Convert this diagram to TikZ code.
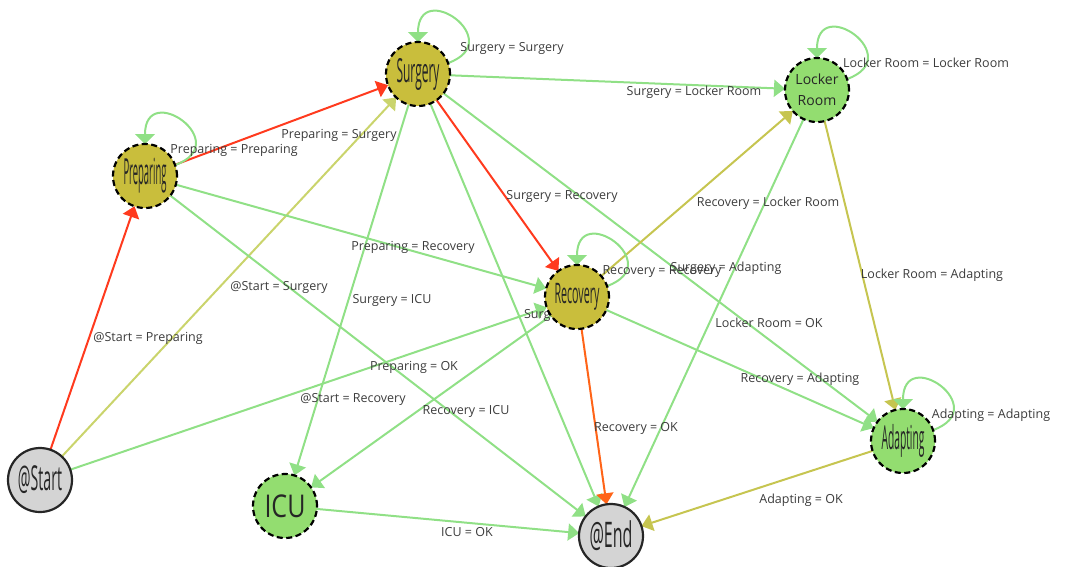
\documentclass[tikz,border=0pt]{standalone}
\usepackage{fontspec}
\setmainfont{Open Sans}
\usepackage{graphicx}
\usetikzlibrary{arrows.meta,backgrounds}
\definecolor{edgegreen}{HTML}{90E086}
\definecolor{edgered}{HTML}{FF3A1E}
\definecolor{edgeorange}{HTML}{FF6418}
\definecolor{edgeolive}{HTML}{C6C550}
\definecolor{edgelime}{HTML}{CAD46C}
\definecolor{busyfill}{HTML}{C9BE3C}
\definecolor{idlefill}{HTML}{93DD70}
\definecolor{endfill}{HTML}{D4D4D4}
\definecolor{labelgray}{HTML}{3C3C3C}
\newcommand{\squeeze}[3]{\resizebox*{#1pt}{#2pt}{#3}}
\tikzset{
  every picture/.style={line join=round, >={Triangle[width=17pt,length=11pt]}},
  state/.style={circle, minimum size=64pt, inner sep=0pt, outer sep=0pt, line width=2.2pt, draw=black, dash pattern=on 6pt off 3.5pt, text=black!85},
  busy/.style={state, fill=busyfill},
  idle/.style={state, fill=idlefill},
  terminal/.style={circle, minimum size=64pt, inner sep=0pt, outer sep=0pt, line width=2.2pt, draw=black!85, fill=endfill, text=black!85},
  trans/.style={->, line width=2pt},
  tlabel/.style={font=\fontsize{12.5}{14}\selectfont, text=labelgray, inner sep=0pt},
  selfloop/.style={->, line width=2pt, edgegreen, out=20, in=90, looseness=4.5, >={Triangle[width=20pt,length=10pt]}},
}

\begin{document}
\begin{tikzpicture}[x=1pt,y=1pt]
\useasboundingbox (0,0) rectangle (1068,-566);
\node[busy] (surg) at (418,-74) {\squeeze{43}{32}{Surgery}};
\node[busy] (prep) at (145,-176) {\squeeze{43}{35}{Preparing}};
\node[idle,align=center,font=\fontsize{14}{21}\selectfont] (locker) at (817,-90) {Locker\\Room};
\node[busy] (recov) at (577,-297) {\squeeze{45}{27}{Recovery}};
\node[idle] (adapt) at (903,-441) {\squeeze{43}{33}{Adapting}};
\node[terminal] (end) at (611,-536) {\squeeze{43}{30}{@End}};
\node[idle] (icu) at (285,-506) {\squeeze{41}{23}{ICU}};
\node[terminal] (start) at (40,-480) {\squeeze{44}{28}{@Start}};
\begin{scope}[on background layer]
\draw[trans,edgered] (start) -- (prep);
\draw[trans,edgelime] (start) -- (surg);
\draw[trans,edgegreen] (start) -- (recov);
\draw[trans,edgered] (prep) -- (surg);
\draw[trans,edgegreen] (prep) -- (recov);
\draw[trans,edgegreen] (prep) -- (end);
\draw[trans,edgegreen] (surg) -- (locker);
\draw[trans,edgered] (surg) -- (recov);
\draw[trans,edgegreen] (surg) -- (icu);
\draw[trans,edgegreen] (surg) -- (end);
\draw[trans,edgegreen] (surg) -- (adapt);
\draw[trans,edgeolive] (locker) -- (adapt);
\draw[trans,edgegreen] (locker) -- (end);
\draw[trans,edgeolive] (recov) -- (locker);
\draw[trans,edgegreen] (recov) -- (icu);
\draw[trans,edgeorange] (recov) -- (end);
\draw[trans,edgegreen] (recov) -- (adapt);
\draw[trans,edgeolive] (adapt) -- (end);
\draw[trans,edgegreen] (icu) -- (end);
\draw[selfloop] (prep.20) to (prep.90);
\draw[selfloop] (surg.20) to (surg.90);
\draw[selfloop] (locker.20) to (locker.90);
\draw[selfloop] (recov.20) to (recov.90);
\draw[selfloop] (adapt.20) to (adapt.90);
\node[tlabel] (lsurgsurg) at (512,-48) {Surgery = Surgery};
\node[tlabel] (lprepprep) at (234,-150) {Preparing = Preparing};
\node[tlabel] (lprepsurg) at (339,-135) {Preparing = Surgery};
\node[tlabel] (lpreprecov) at (413,-247) {Preparing = Recovery};
\node[tlabel] (lstartsurg) at (279,-287) {@Start = Surgery};
\node[tlabel] (lsurgicu) at (392,-300) {Surgery = ICU};
\node[tlabel] (lstartprep) at (148,-338) {@Start = Preparing};
\node[tlabel] (lprepok) at (414,-367) {Preparing = OK};
\node[tlabel] (lstartrecov) at (353,-399) {@Start = Recovery};
\node[tlabel] (lrecovicu) at (466,-411) {Recovery = ICU};
\node[tlabel] (licuok) at (467,-532) {ICU = OK};
\node[tlabel] (lsurglocker) at (694,-92) {Surgery = Locker Room};
\node[tlabel] (llockerlocker) at (926,-63) {Locker Room = Locker Room};
\node[tlabel] (lsurgrecov) at (562,-196) {Surgery = Recovery};
\node[tlabel] (lrecovlocker) at (768,-203) {Recovery = Locker Room};
\node[tlabel] (lrecovrecov) at (662,-272) {Recovery = Recovery};
\node[tlabel] (lsurgadapt) at (726,-268) {Surgery = Adapting};
\node[tlabel] (llockeradapt) at (932,-275) {Locker Room = Adapting};
\node[tlabel] (llockerok) at (769,-323) {Locker Room = OK};
\node[tlabel] (lrecovadapt) at (800,-379) {Recovery = Adapting};
\node[tlabel] (ladaptadapt) at (991,-415) {Adapting = Adapting};
\node[tlabel] (lrecovok) at (636,-428) {Recovery = OK};
\node[tlabel] (ladaptok) at (801,-500) {Adapting = OK};
\node[tlabel] (lsurgok) at (562,-315) {Surgery = OK};
\end{scope}
\end{tikzpicture}
\end{document}
